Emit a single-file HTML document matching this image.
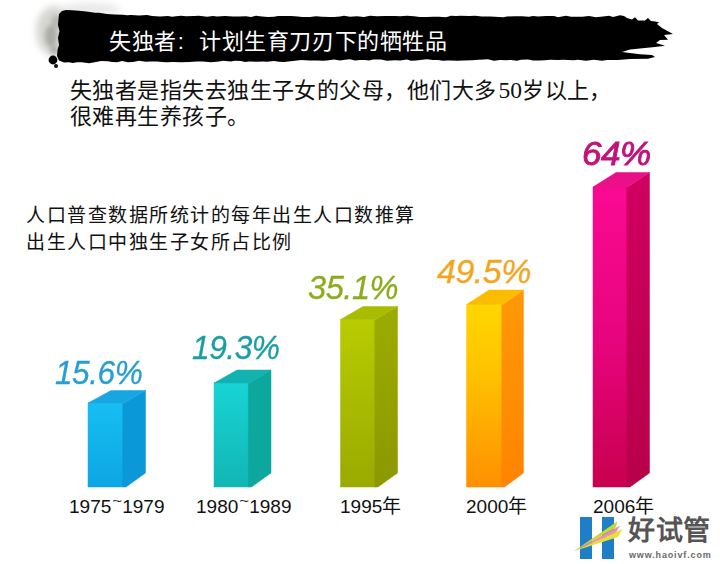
<!DOCTYPE html>
<html lang="zh-CN"><head><meta charset="utf-8">
<style>
html,body{margin:0;padding:0;background:#fff;}
body{width:720px;height:564px;position:relative;overflow:hidden;font-family:"Liberation Sans",sans-serif;}
.abs{position:absolute;white-space:nowrap;}
#title{left:109px;top:29px;font-size:22px;letter-spacing:0.57px;color:#fff;line-height:26px;font-weight:500;}
#sub{left:70px;top:77px;font-size:22px;letter-spacing:0.45px;color:#111;line-height:26px;font-weight:500;}
#ctitle{left:26px;top:203px;font-size:19px;letter-spacing:1.5px;color:#111;line-height:26.5px;font-weight:500;}
.pct{font-style:italic;-webkit-text-stroke:0.3px currentColor;font-size:34px;line-height:36px;letter-spacing:-0.5px;transform:scaleX(0.9);transform-origin:0 0;}
.yr{font-size:19px;color:#111;line-height:20px;}
.tl{display:inline-block;font-size:17px;position:relative;top:-7px;margin:0 0 0 1px;transform:scaleY(0.75);}
</style></head>
<body>
<svg class="abs" style="left:0;top:0" width="720" height="564" viewBox="0 0 720 564">
  <defs>
    <filter id="blur3" x="-50%" y="-50%" width="200%" height="200%"><feGaussianBlur stdDeviation="3.5"/></filter>
    <filter id="blur2" x="-50%" y="-50%" width="200%" height="200%"><feGaussianBlur stdDeviation="2"/></filter>
    <filter id="blur1" x="-20%" y="-20%" width="140%" height="140%"><feGaussianBlur stdDeviation="0.6"/></filter>
    <linearGradient id="g1f" x1="0" y1="0" x2="0" y2="1"><stop offset="0" stop-color="#16bef2"/><stop offset="1" stop-color="#0ea6e4"/></linearGradient>
    <linearGradient id="g2f" x1="0" y1="0" x2="0" y2="1"><stop offset="0" stop-color="#18d4d4"/><stop offset="1" stop-color="#10b6b4"/></linearGradient>
    <linearGradient id="g3f" x1="0" y1="0" x2="0" y2="1"><stop offset="0" stop-color="#b8cc00"/><stop offset="1" stop-color="#9aaa00"/></linearGradient>
    <linearGradient id="g3s" x1="0" y1="0" x2="0" y2="1"><stop offset="0" stop-color="#9cac00"/><stop offset="1" stop-color="#8c9800"/></linearGradient>
    <linearGradient id="g4f" x1="0" y1="0" x2="0" y2="1"><stop offset="0" stop-color="#ffd600"/><stop offset="0.35" stop-color="#ffc400"/><stop offset="1" stop-color="#ff9000"/></linearGradient>
    <linearGradient id="g4s" x1="0" y1="0" x2="0" y2="1"><stop offset="0" stop-color="#ff9808"/><stop offset="1" stop-color="#ff8400"/></linearGradient>
    <linearGradient id="g5f" x1="0" y1="0" x2="0" y2="1"><stop offset="0" stop-color="#fa0a92"/><stop offset="0.5" stop-color="#e8047e"/><stop offset="1" stop-color="#c8004e"/></linearGradient>
    <linearGradient id="g5s" x1="0" y1="0" x2="0" y2="1"><stop offset="0" stop-color="#d00060"/><stop offset="1" stop-color="#b8004a"/></linearGradient>
  </defs>
  <!-- banner smudge -->
  <g filter="url(#blur3)">
    <ellipse cx="54" cy="31" rx="18" ry="25" fill="#d6d6d2"/>
    <ellipse cx="90" cy="9" rx="30" ry="6" fill="#e8e8e8"/>
  </g>
  <g filter="url(#blur2)">
    <ellipse cx="51" cy="36" rx="6" ry="11" fill="#acaca8"/>
    <ellipse cx="56" cy="22" rx="5" ry="7" fill="#b8b8b4"/>
    <ellipse cx="54" cy="50" rx="4" ry="5" fill="#b0b0ac"/>
  </g>
  <path d="M58.5 19 L59 14 L62 11 L66 10 L72 10.2 L82 11 L90 11.9 L95 12.7 L99 12.7 L107 13.9 L115 14.4 L123 14.8 L127 15.2 L131 14.9 L139 15.4 L147 15 L152 15.9 L160 16.5 L168 16.1 L172 16.8 L176 16.2 L181 15.8 L186 16.3 L194 16.1 L199 15.8 L207 16.7 L213 15.9 L217 16.6 L225 16 L233 16.4 L239 16.4 L246 16.3 L251 17 L256 15.8 L262 16.5 L268 16.9 L274 16.7 L278 15.9 L285 16 L291 15.9 L298 16.4 L302 16.9 L310 17 L316 16.2 L322 16.7 L330 17 L334 17 L340 16.5 L344 15.8 L350 16.7 L357 16.2 L364 17.1 L370 15.7 L377 16.3 L385 15.9 L389 16 L395 15.9 L400 16.3 L407 15.8 L414 16.3 L420 17.1 L427 17.1 L433 16.8 L439 16.8 L446 17.2 L451 15.8 L456 16.1 L461 15.7 L469 16 L475 15.7 L482 16.6 L490 16.6 L495 16.8 L503 17.2 L507 16.4 L515 16.3 L522 16.3 L529 16.7 L533 16 L538 16.4 L542 16.2 L546 15.9 L554 15.9 L558 17.2 L566 15.7 L571 16.7 L576 16.7 L582 16.7 L589 15.9 L596 17.3 L603 16.5 L609 15.8 L613 16.9 L615 16.5 L620 15.3 L624 16 L627 18 L632 19.5 L635 17.2 L638 20.5 L645 20.5 L648 18 L651 21 L655 21.5 L659 22.3 L657 24 L662 28 L673 34 L664 35 L667 38.5 L668 39.8 L660 40 L656 43 L665 45.8 L655 47 L640 48.5 L630 49.5 L622 52 L640 54.3 L652 55 L655 57 L648 58.8 L630 59 L618 60 L612 60 L607 60 L602 60.7 L594 59.8 L586 60.7 L578 59.7 L574 60.3 L568 60 L563 59.8 L558 60.1 L550 59.7 L545 60.2 L540 60.5 L533 60.4 L528 59.5 L521 59.8 L517 60.8 L511 60 L506 60.3 L500 59.9 L494 60.7 L488 59.3 L484 59.6 L479 59.7 L472 60.2 L464 60.5 L457 60.7 L451 60.5 L447 60.5 L443 60.7 L438 60 L433 59.9 L427 59.3 L420 59.9 L416 60.4 L411 60.8 L407 59.4 L400 60.5 L395 60.2 L387 60.8 L381 59.4 L373 59.4 L369 60.5 L365 60 L360 59.9 L355 60.5 L350 59.2 L345 59.7 L340 60.4 L334 59.6 L327 60.5 L323 60.7 L317 60.6 L309 60.5 L301 59.9 L293 60.9 L288 61.5 L284 62.1 L279 61.7 L274 61 L267 61.7 L263 61.6 L257 61.8 L249 61.6 L245 62.1 L241 61.1 L235 60.8 L231 61.5 L223 60.7 L219 61.4 L211 62.3 L203 61.5 L197 61.4 L189 62 L181 62.2 L173 62.1 L167 62.2 L162 62 L157 61.4 L150 61.4 L146 61.8 L139 60.8 L133 62 L128 62.2 L122 60.9 L117 62.2 L112 61.9 L108 61.3 L101 61 L96 62 L89 63.3 L82 62.2 L77 62.3 L73 62.9 L69 62.2 L64 62.5 L59 60.5 L57 56 L57.5 50 L59 45 L58 38 L59.5 31 L58 25 Z" fill="#000" filter="url(#blur1)"/>
  <circle cx="53" cy="60" r="4.4" fill="#000" filter="url(#blur1)"/>
  <circle cx="56" cy="66" r="2" fill="#111" filter="url(#blur1)"/>

  <!-- bar 1 -->
  <polygon points="88,403 123.5,403 123.5,487 88,487" fill="url(#g1f)" stroke="url(#g1f)" stroke-width="0.5" stroke-linejoin="round"/>
  <polygon points="122.8,403.4 145.5,390.5 145.5,473 126,487 122.8,487" fill="#0b98d8" stroke="#0b98d8" stroke-width="0.5" stroke-linejoin="round"/>
  <polygon points="88,403 111,390.5 145.5,390.5 123.5,403" fill="#18a6e0" stroke="#18a6e0" stroke-width="0.5" stroke-linejoin="round"/>
  <!-- bar 2 -->
  <polygon points="214,383 249,383 249,487 214,487" fill="url(#g2f)" stroke="url(#g2f)" stroke-width="0.5" stroke-linejoin="round"/>
  <polygon points="248.3,383.4 271,370 271,473 251.5,487 248.3,487" fill="#0ca89e" stroke="#0ca89e" stroke-width="0.5" stroke-linejoin="round"/>
  <polygon points="214,383 237,370 271,370 249,383" fill="#12b2b0" stroke="#12b2b0" stroke-width="0.5" stroke-linejoin="round"/>
  <!-- bar 3 -->
  <polygon points="340.5,319.5 375.5,319.5 375.5,487 340.5,487" fill="url(#g3f)" stroke="url(#g3f)" stroke-width="0.5" stroke-linejoin="round"/>
  <polygon points="374.8,319.9 397.5,306.5 397.5,473 378,487 374.8,487" fill="url(#g3s)" stroke="url(#g3s)" stroke-width="0.5" stroke-linejoin="round"/>
  <polygon points="340.5,319.5 363,306.5 397.5,306.5 375.5,319.5" fill="#a8bc00" stroke="#a8bc00" stroke-width="0.5" stroke-linejoin="round"/>
  <!-- bar 4 -->
  <polygon points="466.5,304.5 502.5,304.5 502.5,487 466.5,487" fill="url(#g4f)" stroke="url(#g4f)" stroke-width="0.5" stroke-linejoin="round"/>
  <polygon points="501.8,304.9 523.5,290 523.5,473 504.5,487 501.8,487" fill="url(#g4s)" stroke="url(#g4s)" stroke-width="0.5" stroke-linejoin="round"/>
  <polygon points="466.5,304.5 489,290 523.5,290 502.5,304.5" fill="#fbbc00" stroke="#fbbc00" stroke-width="0.5" stroke-linejoin="round"/>
  <!-- bar 5 -->
  <polygon points="593,187 627.5,187 627.5,487 593,487" fill="url(#g5f)" stroke="url(#g5f)" stroke-width="0.5" stroke-linejoin="round"/>
  <polygon points="626.8,187.4 649.5,172.5 649.5,473 630,487 626.8,487" fill="url(#g5s)" stroke="url(#g5s)" stroke-width="0.5" stroke-linejoin="round"/>
  <polygon points="593,187 616,172.5 649.5,172.5 627.5,187" fill="#ea1088" stroke="#ea1088" stroke-width="0.5" stroke-linejoin="round"/>

  <!-- logo -->
  <rect x="580" y="517" width="12" height="42" fill="#1f7fc6"/>
  <rect x="602" y="517" width="12" height="42" fill="#1f7fc6"/>
  <polygon points="573.7,551.2 622.5,529 618,537" fill="#e6e03a"/>
  <polygon points="573.7,551.2 620.2,525.4 616,532.3" fill="#f08cac"/>
  <polygon points="573.7,551.2 617.5,521.2 615.6,527.8" fill="#c4d838"/>
</svg>

<div id="title" class="abs">失独者<span style="display:inline-block;width:22.5px;text-indent:1px">:</span>计划生育刀刃下的牺牲品</div>
<div id="sub" class="abs">失独者是指失去独生子女的父母，他们大多<span style="font-family:'Liberation Serif',serif;font-weight:normal;font-size:23.5px;margin-left:2px;letter-spacing:0">50</span>岁以上，<br>很难再生养孩子。</div>
<div id="ctitle" class="abs">人口普查数据所统计的每年出生人口数推算<br>出生人口中独生子女所占比例</div>

<div class="abs pct" style="left:55px;top:354px;color:#259fd3;transform:scaleX(0.93)">15.6%</div>
<div class="abs pct" style="left:192px;top:329px;color:#1a9ea2;transform:scaleX(0.933)">19.3%</div>
<div class="abs pct" style="left:308px;top:269px;color:#8eaa1e;transform:scaleX(0.96)">35.1%</div>
<div class="abs pct" style="left:437px;top:253px;color:#f1a61e;transform:scaleX(1.0)">49.5%</div>
<div class="abs pct" style="left:582px;top:135px;color:#c0147a;transform:scaleX(1.03);-webkit-text-stroke:0.9px #c0147a">64%</div>

<div class="abs yr" style="left:69px;top:497px;">1975<span class="tl">~</span>1979</div>
<div class="abs yr" style="left:196px;top:497px;">1980<span class="tl">~</span>1989</div>
<div class="abs yr" style="left:340px;top:497px;">1995年</div>
<div class="abs yr" style="left:466px;top:497px;">2000年</div>
<div class="abs yr" style="left:593px;top:497px;">2006年</div>

<div class="abs" style="left:628px;top:516px;font-family:'Liberation Serif',serif;font-weight:bold;font-size:27px;color:#555;line-height:30px;letter-spacing:0.5px;">好试管</div>
<div class="abs" style="left:629px;top:550px;font-size:9px;font-weight:bold;color:#6a6a6a;letter-spacing:0.85px;line-height:10px;">www.haoivf.com</div>
</body></html>
